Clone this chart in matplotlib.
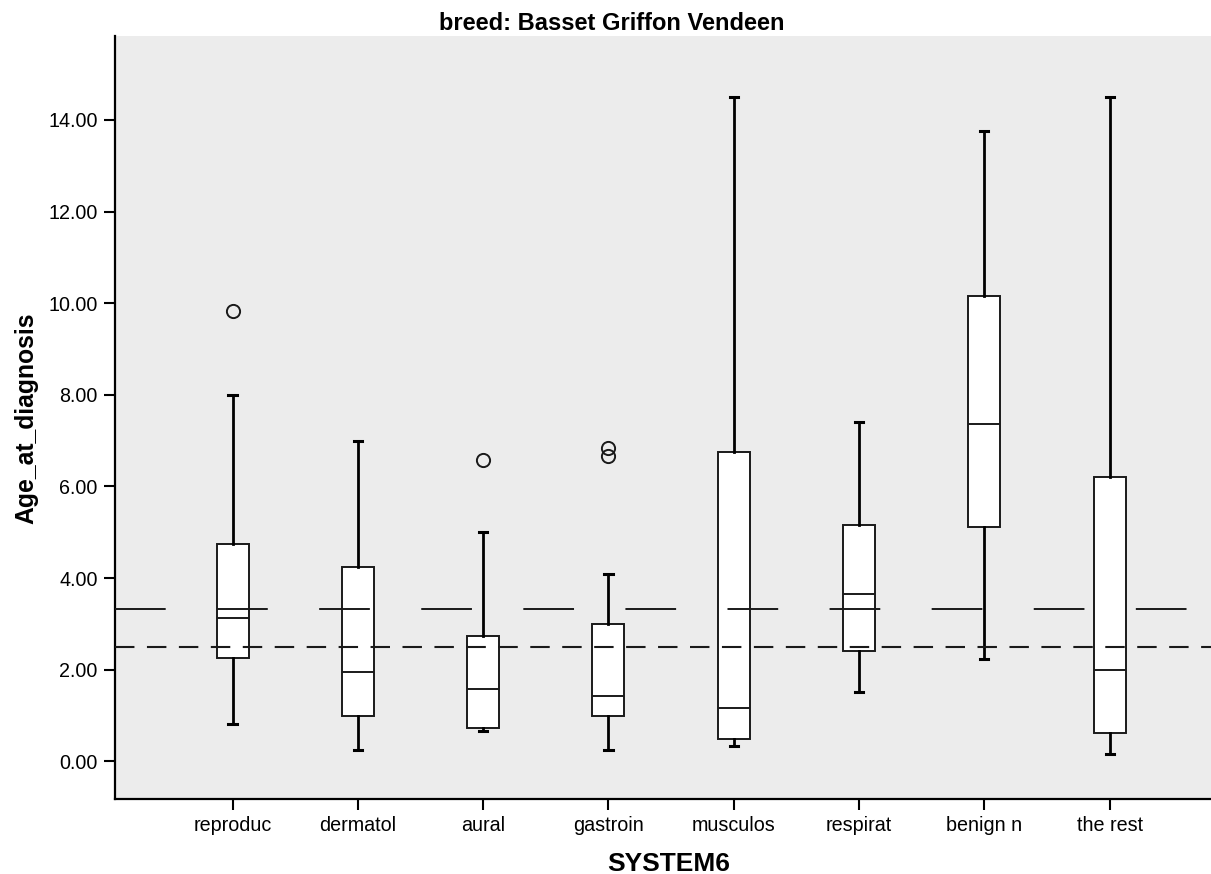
import matplotlib
matplotlib.use("Agg")
import matplotlib.pyplot as plt

plt.rcParams['font.family'] = ['Liberation Sans', 'DejaVu Sans']
plt.rcParams['lines.scale_dashes'] = False

# values
systems = ['reproduc', 'dermatol', 'aural', 'gastroin', 'musculos', 'respirat', 'benign n', 'the rest']
whisker_low = [0.82, 0.25, 0.67, 0.24, 0.33, 1.51, 2.24, 0.17]
q1 = [2.25, 1.00, 0.74, 1.00, 0.50, 2.42, 5.11, 0.62]
median = [3.13, 1.96, 1.58, 1.43, 1.16, 3.66, 7.37, 2.00]
q3 = [4.75, 4.25, 2.74, 2.99, 6.75, 5.16, 10.16, 6.20]
whisker_high = [8.00, 7.00, 5.00, 4.08, 14.50, 7.41, 13.75, 14.50]
outliers = [[9.83], [], [6.58], [6.85, 6.67], [], [], [], []]

ref_solid = 3.33
ref_dashed = 2.50

stats = []
for i, name in enumerate(systems):
    stats.append({'label': name, 'whislo': whisker_low[i], 'q1': q1[i], 'med': median[i],
                  'q3': q3[i], 'whishi': whisker_high[i], 'fliers': outliers[i]})

fig = plt.figure(figsize=(12.11, 8.74), dpi=100)
ax = fig.add_axes([115 / 1211, 1 - 799 / 874, 1 - 115 / 1211, (799 - 36) / 874])
ax.set_facecolor('#ececec')

positions = list(range(1, len(systems) + 1))
ax.bxp(stats, positions=positions, widths=0.255, capwidths=0.065, patch_artist=True,
       boxprops=dict(facecolor='white', edgecolor='#1a1a1a', linewidth=1.4),
       medianprops=dict(color='#1a1a1a', linewidth=1.4),
       whiskerprops=dict(color='black', linewidth=2.0),
       capprops=dict(color='black', linewidth=2.2),
       flierprops=dict(marker='o', markersize=9.5, markerfacecolor='none',
                       markeredgecolor='#1a1a1a', markeredgewidth=1.4))

# reference lines drawn over the boxes
ax.axhline(ref_solid, color='#1a1a1a', linewidth=1.4, dashes=(36.5, 37.0), dash_capstyle='butt',
           zorder=5)
ax.axhline(ref_dashed, color='#1a1a1a', linewidth=1.5, dashes=(14.0, 9.0), zorder=5)

ax.set_xlim(1 + (115.5 - 233) / 125.24, 1 + (1211 - 233) / 125.24)
ax.set_ylim(-0.82, 15.83)
ax.set_yticks(range(0, 15, 2))
ax.set_yticklabels(['%.2f' % v for v in range(0, 15, 2)])
ax.set_xticks(positions)
ax.set_xticklabels(systems)

for side in ['top', 'right']:
    ax.spines[side].set_visible(False)
for side in ['left', 'bottom']:
    ax.spines[side].set_linewidth(1.6)
    ax.spines[side].set_color('black')
ax.tick_params(axis='both', direction='out', length=8, width=1.5, labelsize=14.2, pad=4.5, colors='black')

fig.text(612 / 1211, 1 - 30.5 / 874, 'breed: Basset Griffon Vendeen', ha='center', va='baseline',
         fontsize=17, fontweight='bold')
fig.text(669 / 1211, 1 - 871 / 874, 'SYSTEM6', ha='center', va='baseline',
         fontsize=19, fontweight='bold')
fig.text(26 / 1211, 1 - 418 / 874, 'Age_at_diagnosis', ha='center', va='center', rotation=90,
         fontsize=17.8, fontweight='bold')

fig.savefig('out.png', dpi=100)
